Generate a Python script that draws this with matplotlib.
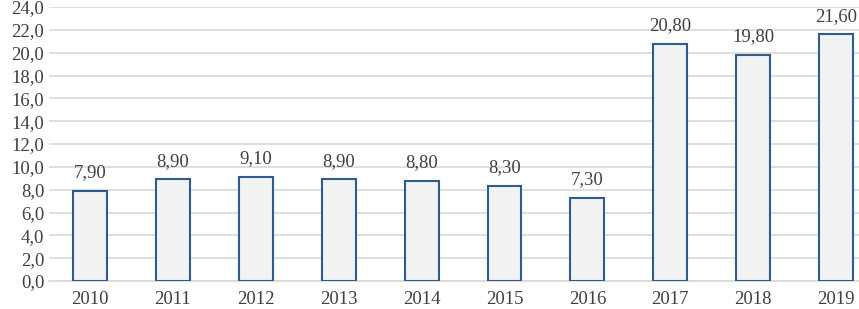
import matplotlib

matplotlib.use("Agg")
import matplotlib.pyplot as plt
from matplotlib.ticker import FuncFormatter

years = ["2010", "2011", "2012", "2013", "2014", "2015", "2016", "2017", "2018", "2019"]
values = [7.90, 8.90, 9.10, 8.90, 8.80, 8.30, 7.30, 20.80, 19.80, 21.60]
yticks = [0, 2, 4, 6, 8, 10, 12, 14, 16, 18, 20, 22, 24]

plt.rcParams["font.family"] = ["Liberation Serif", "DejaVu Serif"]

fig = plt.figure(figsize=(8.59, 3.09), dpi=100)
# plot area runs past the right edge, as in the cropped original
ax = fig.add_axes([0.0565, 0.0906, 0.9651, 0.8867])

x = range(len(years))
ax.bar(x, values, width=0.41, color="#f2f2f2", edgecolor="#2f5c8f", linewidth=1.5, zorder=3)
for xi, v in zip(x, values):
    ax.annotate(f"{v:.2f}".replace(".", ","), (xi, v), xytext=(0, 7),
                textcoords="offset points", ha="center", va="bottom",
                fontsize=13.5, color="#404040")

ax.set_xlim(-0.5, len(years) - 0.5)
ax.set_ylim(0, 24)
ax.set_xticks(list(x))
ax.set_xticklabels(years)
ax.set_yticks(yticks)
ax.yaxis.set_major_formatter(FuncFormatter(lambda v, _: f"{v:.1f}".replace(".", ",")))
ax.tick_params(axis="both", length=0, labelsize=13.5, labelcolor="#404040")
ax.tick_params(axis="x", pad=7)
ax.tick_params(axis="y", pad=3)
ax.grid(axis="y", color="#d9d9d9", linewidth=1.2, zorder=0)
for side in ("top", "right", "left"):
    ax.spines[side].set_visible(False)
ax.spines["bottom"].set_color("#d9d9d9")
ax.spines["bottom"].set_linewidth(1.2)

fig.savefig("out.png", dpi=100)
